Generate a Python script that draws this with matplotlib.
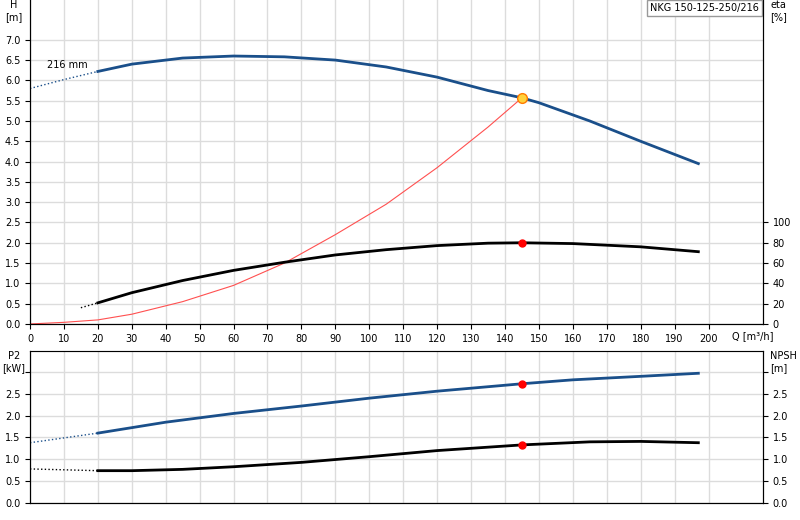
import matplotlib
matplotlib.use("Agg")
import matplotlib.pyplot as plt
import numpy as np

# H curve (m)
q_h_dash = [0, 10, 20]
h_dash = [5.8, 6.02, 6.22]
q_h = [20, 30, 45, 60, 75, 90, 105, 120, 135, 145, 150, 165, 180, 197]
h_vals = [6.22, 6.4, 6.55, 6.6, 6.58, 6.5, 6.33, 6.08, 5.75, 5.57, 5.45, 5.0, 4.5, 3.95]
# system curve (m)
q_sys = [0, 10, 20, 30, 45, 60, 75, 90, 105, 120, 135, 145]
h_sys = [0, 0.04, 0.1, 0.24, 0.55, 0.95, 1.5, 2.2, 2.95, 3.85, 4.85, 5.57]
# efficiency (%)
q_eta_dash = [15, 20]
eta_dash = [16, 20.8]
q_eta = [20, 30, 45, 60, 75, 90, 105, 120, 135, 145, 160, 180, 197]
eta_vals = [20.8, 30.8, 42.8, 52.8, 60.8, 68, 73.2, 77.2, 79.6, 80, 79.2, 76, 71.2]
# P2 (kW)
q_p_dash = [0, 10, 20]
p_dash = [1.38, 1.49, 1.6]
q_p = [20, 40, 60, 80, 100, 120, 145, 160, 180, 197]
p_vals = [1.6, 1.85, 2.05, 2.22, 2.4, 2.56, 2.73, 2.82, 2.9, 2.97]
# NPSH (m)
q_n_dash = [0, 10, 20]
n_dash = [0.78, 0.76, 0.74]
q_n = [20, 30, 45, 60, 80, 100, 120, 145, 165, 180, 197]
n_vals = [0.74, 0.74, 0.77, 0.83, 0.93, 1.06, 1.2, 1.33, 1.4, 1.41, 1.38]
q_duty = 145
h_duty, eta_duty, p_duty, n_duty = 5.57, 80, 2.73, 1.33
x_ticks = list(range(0, 201, 10))
title = "NKG 150-125-250/216"

fs = 7
blue = "#1a4f8a"
fig = plt.figure(figsize=(8, 5.2), dpi=100)
ax = fig.add_axes([0.0375, 0.377, 0.916, 0.623])
ax2 = ax.twinx()
bx = fig.add_axes([0.0375, 0.0327, 0.916, 0.2923])
bx2 = bx.twinx()

xmax = 216
for a in (ax, bx):
    a.set_xlim(0, xmax)
    a.set_xticks(x_ticks)
    a.grid(True, color="#dcdcdc", lw=1)
    a.set_axisbelow(True)
    a.spines["top"].set_visible(False)
ax.set_ylim(0, 7.98)
ax.set_yticks(np.arange(0, 7.01, 0.5))
ax.set_yticklabels([f"{v:.1f}" for v in np.arange(0, 7.01, 0.5)], fontsize=fs)
ax.set_xticklabels([str(v) for v in x_ticks], fontsize=fs)
ax2.set_ylim(0, 7.98 * 40)
ax2.set_yticks(range(0, 101, 20))
ax2.tick_params(labelsize=fs)
ax2.spines["top"].set_visible(False)
ax.text(213, -0.3, "Q [m³/h]", ha="center", va="center", fontsize=fs)
ax.text(-0.022, 1.0, "H\n[m]", transform=ax.transAxes, ha="center", va="top", fontsize=fs)
ax2.text(1.01, 1.0, "eta\n[%]", transform=ax2.transAxes, ha="left", va="top", fontsize=fs)
ax.text(5, 6.3, "216 mm", fontsize=fs)
ax.text(0.995, 0.99, title, transform=ax.transAxes, ha="right", va="top", fontsize=fs,
        bbox=dict(boxstyle="square,pad=0.3", fc="white", ec="#999999"), zorder=10)

ax.plot(q_h_dash, h_dash, ls=":", color=blue, lw=1)
ax.plot(q_h, h_vals, color=blue, lw=2)
ax.plot(q_sys, h_sys, color="#ff5050", lw=0.8)
ax.plot([q_duty], [h_duty], "o", ms=7, mfc="#ffd23c", mec="#ff7a00", zorder=5)
ax2.plot(q_eta_dash, eta_dash, ls=":", color="black", lw=1)
ax2.plot(q_eta, eta_vals, color="black", lw=2)
ax2.plot([q_duty], [eta_duty], "o", ms=5, color="red", zorder=5)

bx.set_ylim(0, 3.48)
bx.set_yticks(np.arange(0, 3.01, 0.5))
bx.set_yticklabels([f"{v:.1f}" for v in np.arange(0, 2.51, 0.5)] + [""], fontsize=fs)
bx.tick_params(axis="x", labelbottom=False, length=0)
bx.spines["top"].set_visible(True)
bx.spines["top"].set_color("#999999")
bx2.set_ylim(0, 3.48)
bx2.set_yticks(np.arange(0, 3.01, 0.5))
bx2.set_yticklabels([f"{v:.1f}" for v in np.arange(0, 2.51, 0.5)] + [""], fontsize=fs)
bx.text(-0.022, 1.0, "P2\n[kW]", transform=bx.transAxes, ha="center", va="top", fontsize=fs)
bx2.text(1.01, 1.0, "NPSH\n[m]", transform=bx2.transAxes, ha="left", va="top", fontsize=fs)
bx.plot(q_p_dash, p_dash, ls=":", color=blue, lw=1)
bx.plot(q_p, p_vals, color=blue, lw=2)
bx.plot([q_duty], [p_duty], "o", ms=5, color="red", zorder=5)
bx2.plot(q_n_dash, n_dash, ls=":", color="black", lw=1)
bx2.plot(q_n, n_vals, color="black", lw=2)
bx2.plot([q_duty], [n_duty], "o", ms=5, color="red", zorder=5)

fig.savefig("out.png", dpi=100)
